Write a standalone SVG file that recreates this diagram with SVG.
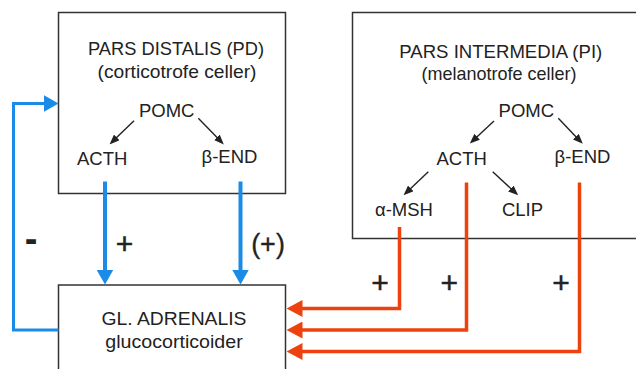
<svg xmlns="http://www.w3.org/2000/svg" width="636" height="369" viewBox="0 0 636 369">
  <style>
    .box { fill: #ffffff; stroke: #333333; stroke-width: 1.5; }
    .t { font-family: "Liberation Sans", Arial, Helvetica, sans-serif; font-size: 18.5px; fill: #222222; text-anchor: middle; }
    .sign { font-family: "Liberation Sans", Arial, Helvetica, sans-serif; font-size: 30px; fill: #222222; stroke: #222222; stroke-width: 0.5; text-anchor: middle; }
    .paren { font-size: 27px; stroke-width: 0.3; }
    .minus { font-size: 38px; font-weight: bold; stroke-width: 0; }
    .blk { fill: none; stroke: #222222; stroke-width: 1.4; marker-end: url(#mBlack); }
    .blue { fill: none; stroke: #1a8be6; stroke-width: 4; marker-end: url(#mBlue); }
    .blue3 { fill: none; stroke: #1a8be6; stroke-width: 3; marker-end: url(#mBlue); }
    .orange { fill: none; stroke: #ee420e; stroke-width: 3.5; marker-end: url(#mOrange); }
  </style>
  <defs>
    <marker id="mBlack" markerUnits="userSpaceOnUse" markerWidth="10" markerHeight="8" refX="7" refY="4" orient="auto">
      <path d="M0,0 L10,4 L0,8 z" fill="#222222"/>
    </marker>
    <marker id="mBlue" markerUnits="userSpaceOnUse" markerWidth="15" markerHeight="17" refX="1" refY="8.5" orient="auto">
      <path d="M0,0 L15,8.5 L0,17 z" fill="#1a8be6"/>
    </marker>
    <marker id="mOrange" markerUnits="userSpaceOnUse" markerWidth="16" markerHeight="17" refX="1" refY="8.5" orient="auto">
      <path d="M0,0 L16,8.5 L0,17 z" fill="#ee420e"/>
    </marker>
  </defs>

  <g id="pd">
    <rect class="box" x="58.5" y="12.5" width="227" height="181"/>
    <text class="t" x="176" y="55" textLength="176" lengthAdjust="spacingAndGlyphs">PARS DISTALIS (PD)</text>
    <text class="t" x="177" y="78" textLength="159" lengthAdjust="spacingAndGlyphs">(corticotrofe celler)</text>
    <text class="t" x="166.7" y="117">POMC</text>
    <text class="t" x="102.2" y="164.5">ACTH</text>
    <text class="t" x="229.5" y="163">β-END</text>
    <path class="blk" d="M134,120.7 L111.7,142.3"/>
    <path class="blk" d="M198.3,118.3 L221.7,142.3"/>
  </g>

  <g id="pi">
    <rect class="box" x="352.5" y="12.5" width="320" height="226"/>
    <text class="t" x="500.8" y="57.5" textLength="203" lengthAdjust="spacingAndGlyphs">PARS INTERMEDIA (PI)</text>
    <text class="t" x="499" y="80" textLength="155" lengthAdjust="spacingAndGlyphs">(melanotrofe celler)</text>
    <text class="t" x="526.3" y="117">POMC</text>
    <text class="t" x="461.7" y="165">ACTH</text>
    <text class="t" x="582.5" y="163">β-END</text>
    <text class="t" x="404" y="216">α-MSH</text>
    <text class="t" x="522.5" y="215.5">CLIP</text>
    <path class="blk" d="M494,121 L472,141.5"/>
    <path class="blk" d="M558.3,118.3 L580.7,141.7"/>
    <path class="blk" d="M428.3,171.7 L405.7,193.3"/>
    <path class="blk" d="M492.7,171.7 L516,193.3"/>
  </g>

  <g id="adrenal">
    <rect class="box" x="58.5" y="285" width="227" height="100"/>
    <text class="t" x="174" y="325" textLength="145" lengthAdjust="spacingAndGlyphs">GL. ADRENALIS</text>
    <text class="t" x="174" y="347.5" textLength="137.5" lengthAdjust="spacingAndGlyphs">glucocorticoider</text>
  </g>

  <g id="connectors">
    <path class="blue" d="M105,181.5 V270.5"/>
    <path class="blue" d="M240.5,181.5 V270.5"/>
    <path class="blue3" d="M58.5,330 H13.5 V103.5 H44.5"/>
    <path class="orange" d="M399.5,227 V308.5 H301.5"/>
    <path class="orange" d="M466.5,182.5 V330 H301.5"/>
    <path class="orange" d="M579.5,182.5 V351.5 H301.5"/>
  </g>

  <g id="labels">
    <text class="sign minus" x="31" y="251.5">-</text>
    <text class="sign" x="124.5" y="253.5">+</text>
    <text class="sign paren" x="268" y="253">(+)</text>
    <text class="sign" x="380" y="293">+</text>
    <text class="sign" x="449.3" y="293">+</text>
    <text class="sign" x="561" y="293">+</text>
  </g>
</svg>
